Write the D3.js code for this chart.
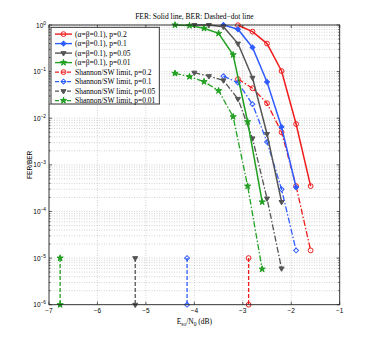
<!DOCTYPE html>
<html>
<head>
<meta charset="utf-8">
<script src="https://cdn.jsdelivr.net/npm/d3@7"></script>
<style>
  body { margin: 0; background: #fff; }
  svg { display: block; }
  text { fill: #000; }
</style>
</head>
<body>
<div id="chart"></div>
<script>
// FER / BER vs Eso/N0, log y, four crossover probabilities + Shannon/SW limits

// p = 0.2
const xP02   = [-3.1, -2.8, -2.5, -2.2, -1.9, -1.6];
const ferP02 = [0.99, 0.72, 0.40, 0.103, 7.5e-3, 3.5e-4];
const berP02 = [0.069, 0.044, 0.021, 5.0e-3, 3.5e-4, 1.46e-5];
// p = 0.1
const xP01   = [-3.4, -3.1, -2.8, -2.5, -2.2, -1.9];
const ferP01 = [1.0, 0.81, 0.33, 0.060, 6.5e-3, 3.3e-4];
const berP01 = [0.080, 0.058, 0.020, 3.1e-3, 3.0e-4, 1.46e-5];
// p = 0.05
const xP005   = [-4.0, -3.7, -3.4, -3.1, -2.8, -2.5, -2.2];
const ferP005 = [1.0, 1.0, 0.92, 0.40, 0.074, 4.6e-3, 1.6e-4];
const berP005 = [0.095, 0.080, 0.065, 0.026, 3.7e-3, 1.9e-4, 6.0e-6];
// p = 0.01
const xP001   = [-4.4, -4.1, -3.8, -3.5, -3.2, -2.9, -2.6];
const ferP001 = [1.0, 0.97, 0.85, 0.66, 0.23, 8.4e-3, 1.6e-4];
const berP001 = [0.092, 0.078, 0.061, 0.039, 0.0108, 3.5e-4, 5.8e-6];

// Shannon/SW limits (p = 0.2, 0.1, 0.05, 0.01), drawn between 1e-5 and 1e-6
const limitX = [-2.88, -4.15, -5.22, -6.77];
const limitY = [1e-5, 1e-6];

const xTicks = [-7, -6, -5, -4, -3, -2, -1];
const yDecades = [-6, -5, -4, -3, -2, -1, 0];

const legendLabels = [
  "(α=β=0.1), p=0.2", "(α=β=0.1), p=0.1", "(α=β=0.1), p=0.05", "(α=β=0.1), p=0.01",
  "Shannon/SW limit, p=0.2", "Shannon/SW limit, p=0.1", "Shannon/SW limit, p=0.05", "Shannon/SW limit, p=0.01"
];

function drawGraph() {
  const width = 374, height = 343;
  const margin = { top: 25, right: 34.3, bottom: 38.3, left: 49 };
  const plot_width  = width  - margin.left - margin.right;
  const plot_height = height - margin.top  - margin.bottom;

  const red = "#f01c1c", blue = "#2f5cff", grey = "#555555", green = "#22a022";
  const colors = [red, blue, grey, green];
  const shapes = ["circle", "diamond", "tri", "star"];

  const canvas = d3.select("#chart").append("svg")
    .attr("width", width).attr("height", height);

  const plot = canvas.append("g")
    .attr("transform", `translate(${margin.left},${margin.top})`);

  const xScale = d3.scaleLinear().domain([-7, -1]).range([0, plot_width]);
  const yScale = d3.scaleLog().domain([1e-6, 1]).range([plot_height, 0]);

  // GRID (dotted)
  const minors = [];
  yDecades.slice(0, -1).forEach(e => {
    for (let k = 2; k <= 9; k++) minors.push(k * Math.pow(10, e));
  });
  const gridY = yDecades.map(e => Math.pow(10, e)).concat(minors);

  plot.selectAll(".gy").data(gridY).join("line")
    .attr("x1", 0).attr("x2", plot_width)
    .attr("y1", d => yScale(d)).attr("y2", d => yScale(d))
    .style("stroke", "#b5b5b5").style("stroke-width", 0.6)
    .style("stroke-dasharray", "1,1.5");

  plot.selectAll(".gx").data(xTicks.slice(1, -1)).join("line")
    .attr("x1", d => xScale(d)).attr("x2", d => xScale(d))
    .attr("y1", 0).attr("y2", plot_height)
    .style("stroke", "#b5b5b5").style("stroke-width", 0.6)
    .style("stroke-dasharray", "1,1.5");

  // MARKERS
  function marker(g, shape, color, filled, px, py) {
    const sym = { circle: d3.symbolCircle, diamond: d3.symbolSquare,
                  tri: d3.symbolTriangle, star: d3.symbolStar }[shape];
    const size = { circle: 18, diamond: 12, tri: 11, star: 12 }[shape];
    const rot = { circle: 0, diamond: 45, tri: 180, star: 0 }[shape];
    g.append("path")
      .attr("d", d3.symbol().type(sym).size(size)())
      .attr("transform", `translate(${px},${py}) rotate(${rot})`)
      .style("fill", filled ? color : "none")
      .style("stroke", color)
      .style("stroke-width", 1);
  }

  const lineGen = d3.line()
    .x(d => xScale(d[0]))
    .y(d => yScale(d[1]));

  const xs   = [xP02, xP01, xP005, xP001];
  const fers = [ferP02, ferP01, ferP005, ferP001];
  const bers = [berP02, berP01, berP005, berP001];

  // BER curves (dash-dot)
  xs.forEach((xv, i) => {
    const pts = xv.map((v, j) => [v, bers[i][j]]);
    plot.append("path").datum(pts)
      .attr("d", lineGen)
      .style("fill", "none").style("stroke", colors[i])
      .style("stroke-width", 1.3)
      .style("stroke-dasharray", "6,2,1.5,2");
    pts.forEach(p => marker(plot, shapes[i], colors[i], i >= 2,
      xScale(p[0]), yScale(p[1])));
  });

  // FER curves (solid)
  xs.forEach((xv, i) => {
    const pts = xv.map((v, j) => [v, fers[i][j]]);
    plot.append("path").datum(pts)
      .attr("d", lineGen)
      .style("fill", "none").style("stroke", colors[i])
      .style("stroke-width", 1.5);
    pts.forEach(p => marker(plot, shapes[i], colors[i], i >= 1,
      xScale(p[0]), yScale(p[1])));
  });

  // Shannon/SW limits (dashed)
  limitX.forEach((lx, i) => {
    plot.append("line")
      .attr("x1", xScale(lx)).attr("x2", xScale(lx))
      .attr("y1", yScale(limitY[0])).attr("y2", yScale(limitY[1]))
      .style("stroke", colors[i]).style("stroke-width", 1.3)
      .style("stroke-dasharray", "4,2");
    limitY.forEach(ly => marker(plot, shapes[i], colors[i], i >= 2,
      xScale(lx), yScale(ly)));
  });

  // AXES BOX + inward ticks
  plot.append("rect")
    .attr("width", plot_width).attr("height", plot_height)
    .style("fill", "none").style("stroke", "#222").style("stroke-width", 0.9);

  const tickG = plot.append("g").style("stroke", "#222").style("stroke-width", 0.7);
  xTicks.forEach(t => {
    tickG.append("line").attr("x1", xScale(t)).attr("x2", xScale(t))
      .attr("y1", plot_height).attr("y2", plot_height - 3);
    tickG.append("line").attr("x1", xScale(t)).attr("x2", xScale(t))
      .attr("y1", 0).attr("y2", 3);
  });
  gridY.forEach(v => {
    const len = minors.includes(v) ? 1.5 : 3;
    tickG.append("line").attr("x1", 0).attr("x2", len)
      .attr("y1", yScale(v)).attr("y2", yScale(v));
    tickG.append("line").attr("x1", plot_width).attr("x2", plot_width - len)
      .attr("y1", yScale(v)).attr("y2", yScale(v));
  });

  // TICK LABELS
  plot.selectAll(".xl").data(xTicks).join("text")
    .attr("x", d => xScale(d)).attr("y", plot_height + 8)
    .attr("text-anchor", "middle")
    .style("font-family", "Liberation Sans, Arial, sans-serif")
    .style("font-size", "6.5px")
    .text(d => d < 0 ? "\u2212" + Math.abs(d) : d);

  yDecades.forEach(e => {
    const t = plot.append("text")
      .attr("x", -3).attr("y", yScale(Math.pow(10, e)) + 2.5)
      .attr("text-anchor", "end")
      .style("font-family", "Liberation Sans, Arial, sans-serif")
      .style("font-size", "6.5px");
    t.append("tspan").text("10");
    t.append("tspan").attr("dy", -3).style("font-size", "4.8px")
      .text(e < 0 ? "\u2212" + Math.abs(e) : e);
  });

  // AXIS LABELS
  const xl = plot.append("text")
    .attr("x", plot_width / 2).attr("y", plot_height + 19)
    .attr("text-anchor", "middle")
    .style("font-family", "Liberation Serif, Times New Roman, serif")
    .style("font-size", "7.5px");
  xl.append("tspan").text("E");
  xl.append("tspan").attr("dy", 2).style("font-size", "5.5px").text("so");
  xl.append("tspan").attr("dy", -2).text("/N");
  xl.append("tspan").attr("dy", 2).style("font-size", "5.5px").text("0");
  xl.append("tspan").attr("dy", -2).text(" (dB)");

  plot.append("text")
    .attr("transform", "rotate(-90)")
    .attr("x", -plot_height / 2).attr("y", -17)
    .attr("text-anchor", "middle")
    .style("font-family", "Liberation Sans, Arial, sans-serif")
    .style("font-size", "6.5px")
    .text("FER/BER");

  // TITLE
  plot.append("text")
    .attr("x", plot_width / 2).attr("y", -6)
    .attr("text-anchor", "middle")
    .style("font-family", "Liberation Serif, Times New Roman, serif")
    .style("font-size", "7.5px")
    .text("FER: Solid line, BER: Dashed\u2212dot line");

  // LEGEND
  const legendG = canvas.append("g").attr("transform", "translate(51,27.3)");
  legendG.append("rect")
    .attr("width", 108.3).attr("height", 76.7)
    .style("fill", "#fff").style("stroke", "#222").style("stroke-width", 0.9);

  legendLabels.forEach((lab, i) => {
    const k = i % 4;
    const yy = 6.8 + i * 9.5;
    legendG.append("line")
      .attr("x1", 4).attr("x2", 21).attr("y1", yy).attr("y2", yy)
      .style("stroke", colors[k]).style("stroke-width", 1.4)
      .style("stroke-dasharray", i < 4 ? null : "4,2");
    marker(legendG, shapes[k], colors[k], k >= (i < 4 ? 1 : 2), 12.5, yy);
    legendG.append("text")
      .attr("x", 24).attr("y", yy + 2.6)
      .style("font-family", "Liberation Serif, Times New Roman, serif")
      .style("font-size", "7.5px")
      .text(lab);
  });
}

drawGraph();
</script>
</body>
</html>
